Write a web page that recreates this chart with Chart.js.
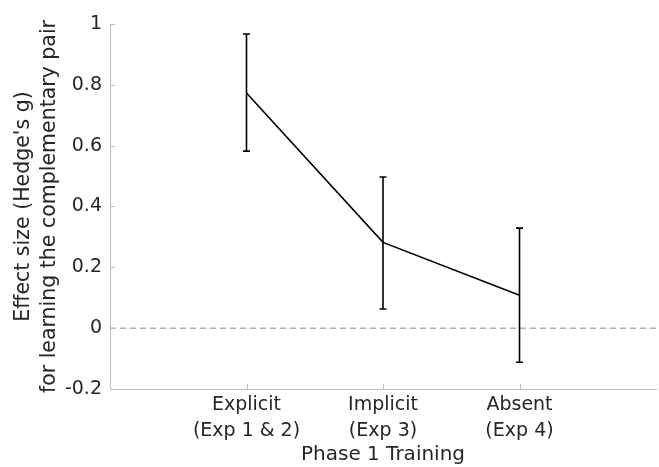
<!DOCTYPE html>
<html>
<head>
<meta charset="utf-8">
<script src="https://cdn.jsdelivr.net/npm/chart.js@4"></script>
<style>
  html, body { margin: 0; padding: 0; background: #fff; }
  #wrap { width: 659px; height: 467px; }
</style>
</head>
<body>
<div id="wrap"><canvas id="chart"></canvas></div>
<script>
// data
const categories = [['Explicit', '(Exp 1 & 2)'], ['Implicit', '(Exp 3)'], ['Absent', '(Exp 4)']];
const xPos = [1, 2, 3];
const effect = [0.773, 0.282, 0.108];
const upper = [0.967, 0.497, 0.329];
const lower = [0.582, 0.063, -0.112];
const yTicks = [-0.2, 0, 0.2, 0.4, 0.6, 0.8, 1];

const axisColor = '#bdbdbd';
const textColor = '#262626';

// error bars, zero line and inward tick marks
const extras = {
  id: 'extras',
  beforeDatasetsDraw(chart) {
    const {ctx, chartArea, scales: {x, y}} = chart;
    const y0 = y.getPixelForValue(0);
    ctx.save();
    ctx.strokeStyle = '#8a8a8a';
    ctx.lineWidth = 1;
    ctx.setLineDash([6, 4]);
    ctx.beginPath();
    ctx.moveTo(chartArea.left, y0);
    ctx.lineTo(chartArea.right, y0);
    ctx.stroke();
    ctx.setLineDash([]);

    // inward ticks
    ctx.strokeStyle = axisColor;
    ctx.beginPath();
    yTicks.forEach(v => {
      const py = Math.round(y.getPixelForValue(v)) + 0.5;
      ctx.moveTo(chartArea.left, py);
      ctx.lineTo(chartArea.left + 5, py);
    });
    xPos.forEach(v => {
      const px = Math.round(x.getPixelForValue(v)) + 0.5;
      ctx.moveTo(px, chartArea.bottom);
      ctx.lineTo(px, chartArea.bottom - 5);
    });
    ctx.stroke();
    ctx.restore();
  },
  afterDatasetsDraw(chart) {
    const {ctx, scales: {x, y}} = chart;
    ctx.save();
    ctx.strokeStyle = '#000';
    ctx.lineWidth = 1.6;
    xPos.forEach((v, i) => {
      const px = x.getPixelForValue(v);
      const top = y.getPixelForValue(upper[i]);
      const bot = y.getPixelForValue(lower[i]);
      ctx.beginPath();
      ctx.moveTo(px, top); ctx.lineTo(px, bot);
      ctx.moveTo(px - 3.5, top); ctx.lineTo(px + 3.5, top);
      ctx.moveTo(px - 3.5, bot); ctx.lineTo(px + 3.5, bot);
      ctx.stroke();
    });
    ctx.restore();
  }
};

new Chart(document.getElementById('chart'), {
  type: 'line',
  data: {
    datasets: [{
      data: xPos.map((v, i) => ({x: v, y: effect[i]})),
      borderColor: '#000',
      borderWidth: 1.6,
      pointRadius: 0,
      tension: 0,
      fill: false
    }]
  },
  options: {
    responsive: true,
    maintainAspectRatio: false,
    animation: false,
    layout: {padding: {top: 24, right: 3, left: 0, bottom: 0}},
    plugins: {legend: {display: false}, tooltip: {enabled: false}},
    scales: {
      x: {
        type: 'linear',
        min: 0,
        max: 4,
        afterBuildTicks(scale) { scale.ticks = xPos.map(v => ({value: v})); },
        afterFit(scale) { scale.height = 78; },
        ticks: {
          autoSkip: false,
          maxRotation: 0,
          padding: 4,
          color: textColor,
          font: {family: 'DejaVu Sans', size: 19, lineHeight: 1.32},
          callback: (v) => categories[xPos.indexOf(v)] || ''
        },
        grid: {drawOnChartArea: false, drawTicks: false, color: 'transparent'},
        border: {display: true, color: axisColor, width: 1},
        title: {
          display: true,
          text: 'Phase 1 Training',
          color: textColor,
          padding: {top: 0, bottom: 0},
          font: {family: 'DejaVu Sans', size: 20, lineHeight: 1.2}
        }
      },
      y: {
        min: -0.2,
        max: 1,
        afterBuildTicks(scale) { scale.ticks = yTicks.map(v => ({value: v})); },
        afterFit(scale) { scale.width = 110; },
        ticks: {
          padding: 8,
          color: textColor,
          font: {family: 'DejaVu Sans', size: 19},
          callback: (v) => String(Math.round(v * 10) / 10)
        },
        grid: {drawOnChartArea: false, drawTicks: false, color: 'transparent'},
        border: {display: true, color: axisColor, width: 1},
        title: {
          display: true,
          text: ["Effect size (Hedge's g)", 'for learning the complementary pair'],
          color: textColor,
          padding: {top: 11, bottom: 0},
          font: {family: 'DejaVu Sans', size: 20.5, lineHeight: 1.27}
        }
      }
    }
  },
  plugins: [extras]
});
</script>
</body>
</html>
